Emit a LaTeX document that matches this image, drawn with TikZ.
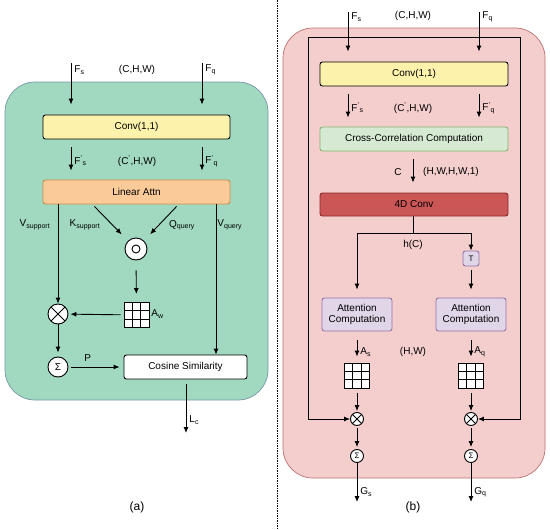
\documentclass[tikz,border=0pt]{standalone}
\usepackage{fontspec}
\setmainfont{Liberation Sans}
\usetikzlibrary{arrows.meta,positioning,calc}
\definecolor{panelA}{RGB}{160,217,191}
\definecolor{panelAline}{RGB}{118,150,168}
\definecolor{panelB}{RGB}{244,205,205}
\definecolor{panelBline}{RGB}{190,112,110}
\definecolor{convyel}{RGB}{252,242,172}
\definecolor{attnor}{RGB}{250,203,152}
\definecolor{attnline}{RGB}{205,140,80}
\definecolor{ccgreen}{RGB}{214,234,211}
\definecolor{ccline}{RGB}{135,180,110}
\definecolor{fdred}{RGB}{202,86,86}
\definecolor{fdline}{RGB}{140,40,40}
\definecolor{acpurple}{RGB}{225,213,232}
\definecolor{acline}{RGB}{150,115,166}
\newcommand{\lsub}[2]{#1\textsubscript{#2}}
\newcommand{\psub}[2]{#1\textsuperscript{'}\textsubscript{#2}}

\begin{document}
\begin{tikzpicture}[x=1pt, y=-1pt, line width=0.9pt, >={Latex[length=6pt,width=5pt]},
    font=\fontsize{10}{11.5}\selectfont,
    box/.style={draw, rounded corners=2.5pt, minimum height=24pt, inner sep=2pt, align=center},
    lbl/.style={inner sep=1pt, anchor=west},
    op/.style={draw, circle, fill=white, minimum size=20pt, inner sep=0pt},
    opx/.style={op, path picture={\draw (path picture bounding box.north west) -- (path picture bounding box.south east)
        (path picture bounding box.north east) -- (path picture bounding box.south west);}},
    opdot/.style={op, minimum size=22pt, path picture={\draw (path picture bounding box.center) circle (4pt);}},
    gridbox/.style={draw, fill=white, minimum size=25pt, inner sep=0pt, path picture={
        \foreach \t in {1,2} {
          \draw ($(path picture bounding box.north west)!\t/3!(path picture bounding box.north east)$) --
                ($(path picture bounding box.south west)!\t/3!(path picture bounding box.south east)$)
                ($(path picture bounding box.north west)!\t/3!(path picture bounding box.south west)$) --
                ($(path picture bounding box.north east)!\t/3!(path picture bounding box.south east)$);
        }}}]
  \useasboundingbox (0,0) rectangle (550,530);

  % (a)
  \filldraw[fill=panelA, draw=panelAline, rounded corners=30pt, line width=0.7pt] (5,82) rectangle (268,400);
  \node[box, fill=convyel, minimum width=187pt] (convA) at (136.5,127) {Conv(1,1)};
  \node[box, fill=attnor, draw=attnline, minimum width=187pt] (linA) at (136.5,192) {Linear Attn};
  \node[opdot] (dotA) at (136,249) {};
  \node[gridbox] (gridA) at (136.5,315) {};
  \node[opx] (xA) at (58,314) {};
  \node[op] (sA) at (58,367) {Σ};
  \node[box, fill=white, minimum width=123pt] (cosA) at (185.5,367) {Cosine Similarity};
  \coordinate (inSA) at (71,63);
  \coordinate (inQA) at (202,63);
  \coordinate (kA) at (93,205);
  \coordinate (qA) at (178,205);
  \coordinate (vqA) at (216,204);
  \coordinate (lcA) at (186,433);

  \draw[->, shorten >=10pt] (inSA) -- (inSA |- convA.north);
  \draw[->, shorten >=10pt] (inQA) -- (inQA |- convA.north);
  \draw[->, shorten <=8pt, shorten >=9pt] (convA.south -| inSA) -- (linA.north -| inSA);
  \draw[->, shorten <=8pt, shorten >=9pt] (convA.south -| inQA) -- (linA.north -| inQA);
  \draw[->] (linA.south -| xA) -- (xA);
  \draw[->, shorten <=2pt, shorten >=9pt] (kA) -- (dotA);
  \draw[->, shorten <=2pt, shorten >=9pt] (qA) -- (dotA);
  \draw[->] (vqA) -- (vqA |- cosA.north);
  \draw[->, shorten <=10pt, shorten >=8pt] (dotA) -- (gridA);
  \draw[->, shorten <=3pt, shorten >=2pt] (gridA) -- (xA);
  \draw[->, shorten >=4pt] (xA) -- (sA);
  \draw[->, shorten <=3pt, shorten >=4pt] (sA) -- node[pos=0.35, above=2pt] {P} (cosA);
  \draw[->, shorten <=5pt] (cosA.south -| lcA) -- (lcA);

  \node[lbl] at (73,70) {\lsub{F}{s}};
  \node at (137,70) {(C,H,W)};
  \node[lbl] at (204,70) {\lsub{F}{q}};
  \node[lbl] at (73,161) {\psub{F}{s}};
  \node at (137,161) {(C\textsuperscript{'},H,W)};
  \node[lbl] at (204,161) {\psub{F}{q}};
  \node at (35,225) {\lsub{V}{support}};
  \node at (85,225) {\lsub{K}{support}};
  \node at (182,225) {\lsub{Q}{query}};
  \node[lbl] at (216,225) {\lsub{V}{query}};
  \node[lbl] at (150,314) {\lsub{A}{w}};
  \node[lbl] at (188,420) {\lsub{L}{c}};
  \node[font=\fontsize{12}{14}\selectfont] (capA) at (137,507) {(a)};

  % divider
  \draw[line width=0.6pt, dash pattern=on 1.5pt off 1pt] (277,0) -- (277,530);

  % (b)
  \filldraw[fill=panelB, draw=panelBline, rounded corners=30pt, line width=0.7pt] (283,28) rectangle (545,478);
  \node[box, fill=convyel, minimum width=188pt] (convB) at (414,74) {Conv(1,1)};
  \node[box, fill=ccgreen, draw=ccline, minimum width=188pt] (ccB) at (414,139) {Cross-Correlation Computation};
  \node[box, fill=fdred, draw=fdline, minimum width=188pt, minimum height=23pt] (fdB) at (414,204.5) {4D Conv};
  \node[box, fill=acpurple, draw=acline, minimum width=16pt, minimum height=15pt, inner sep=0pt, font=\fontsize{8}{9}\selectfont] (tB) at (471,258.5) {T};
  \node[box, fill=acpurple, draw=acline, minimum width=70pt, minimum height=33pt] (attSB) at (357,314.5) {Attention\\Computation};
  \node[box, fill=acpurple, draw=acline, minimum width=70pt, minimum height=33pt] (attQB) at (471,314.5) {Attention\\Computation};
  \node[gridbox] (gridSB) at (357,375.5) {};
  \node[gridbox] (gridQB) at (471,375.5) {};
  \node[opx, minimum size=13pt] (xSB) at (357,419) {};
  \node[opx, minimum size=13pt] (xQB) at (471,419) {};
  \node[op, minimum size=13pt, font=\fontsize{8}{9}\selectfont] (sSB) at (357,456) {Σ};
  \node[op, minimum size=13pt, font=\fontsize{8}{9}\selectfont] (sQB) at (471,456) {Σ};
  \coordinate (inSB) at (348,12);
  \coordinate (inQB) at (479,12);
  \coordinate (tlB) at (308,37);
  \coordinate (trB) at (520,37);
  \coordinate (cB) at (413,151);
  \coordinate (hB) at (413,233);
  \coordinate (gsB) at (357,502);
  \coordinate (gqB) at (471,502);

  \draw (tlB) -- (trB);
  \draw[->] (tlB) |- (xSB);
  \draw[->] (trB) |- (xQB);
  \draw[->, shorten >=10pt] (inSB) -- (inSB |- convB.north);
  \draw[->, shorten >=10pt] (inQB) -- (inQB |- convB.north);
  \draw[->, shorten <=8pt, shorten >=9pt] (convB.south -| inSB) -- (ccB.north -| inSB);
  \draw[->, shorten <=8pt, shorten >=9pt] (convB.south -| inQB) -- (ccB.north -| inQB);
  \draw[->, shorten <=8pt, shorten >=10pt] (cB) -- (cB |- fdB.north);
  \draw (fdB.south -| hB) -- (hB);
  \draw[->, shorten >=8pt] (hB) -| (attSB);
  \draw[->] (hB) -| (tB);
  \draw[->, shorten <=4pt, shorten >=8pt] (tB) -- (attQB);
  \draw[->, shorten <=9pt, shorten >=6pt] (attSB) -- (gridSB);
  \draw[->, shorten <=9pt, shorten >=6pt] (attQB) -- (gridQB);
  \draw[->, shorten <=5pt, shorten >=1pt] (gridSB) -- (xSB);
  \draw[->, shorten <=5pt, shorten >=1pt] (gridQB) -- (xQB);
  \draw[->, shorten <=2pt, shorten >=2pt] (xSB) -- (sSB);
  \draw[->, shorten <=2pt, shorten >=2pt] (xQB) -- (sQB);
  \draw[->] (sSB) -- (gsB);
  \draw[->] (sQB) -- (gqB);

  \node[lbl] at (350,17) {\lsub{F}{s}};
  \node at (413,16) {(C,H,W)};
  \node[lbl] at (481,17) {\lsub{F}{q}};
  \node[lbl] at (350,108) {\psub{F}{s}};
  \node at (413,108) {(C\textsuperscript{'},H,W)};
  \node[lbl] at (481,108) {\psub{F}{q}};
  \node at (398,172) {C};
  \node at (451,172) {(H,W,H,W,1)};
  \node at (413,245) {h(C)};
  \node[lbl] at (359,352) {\lsub{A}{s}};
  \node at (413,352) {(H,W)};
  \node[lbl] at (473,352) {\lsub{A}{q}};
  \node[lbl] at (359,492) {\lsub{G}{s}};
  \node[lbl] at (473,492) {\lsub{G}{q}};
  \node[font=\fontsize{12}{14}\selectfont] (capB) at (413,507) {(b)};
\end{tikzpicture}
\end{document}
